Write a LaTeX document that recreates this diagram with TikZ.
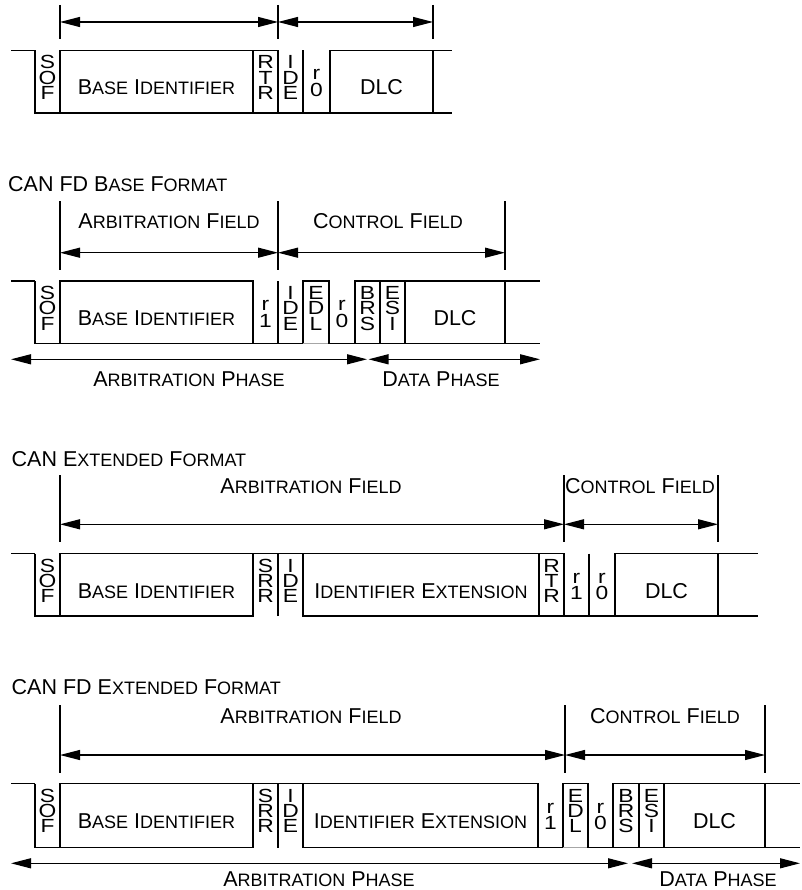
\documentclass[tikz,border=0pt]{standalone}
\usepackage{fontspec}
\setmainfont{Liberation Sans}
\newfontfamily\vfont[FakeStretch=1.2]{Liberation Sans}
\usetikzlibrary{arrows.meta}
\newcommand\SC[1]{{\fontsize{18}{18}\selectfont #1}}
\tikzset{
  wave/.style={line width=1.15pt, line join=miter},
  tick/.style={line width=1.15pt},
  dim/.style={line width=1.15pt, {Triangle[length=20pt,width=10pt]}-{Triangle[length=20pt,width=10pt]}},
  lbl/.style={anchor=base, inner sep=0pt, text depth=0pt, font=\fontsize{21.5}{21.5}\selectfont},
  ttl/.style={anchor=base west, inner sep=0pt, text depth=0pt, font=\fontsize{21.5}{21.5}\selectfont},
  vl/.style={anchor=base, inner sep=0pt, text height=13.5pt, text depth=0pt, font=\vfont\fontsize{19}{19}\selectfont},
}
\newcommand\fldbox[2]{\draw[wave] (#1,\yT) rectangle (#2,\yB);}
\newcommand\flddom[2]{\draw[wave] (#1,\yT) -- (#1,\yB) -- (#2,\yB) -- (#2,\yT);}
\newcommand\fldrec[2]{\draw[wave] (#1,\yB) -- (#1,\yT) -- (#2,\yT) -- (#2,\yB);}
\newcommand\fldedl[2]{\fldrec{#1}{#2}\draw[wave,black!35] (#1,\yB) -- (#2,\yB);}
\newcommand\fldtail[2]{\draw[wave] (#1,\yT) -- (#2,\yT); \draw[wave] (#1,\yB) -- (#2,\yB);}
\newcommand\idle{\draw[wave] (11,\yT) -- (35,\yT);}
\newcommand\vthree[5]{%
  \node[vl] (#1a) at ({#2},{\yT+18.5}) {#3};
  \node[vl] (#1b) at ({#2},{\yT+33.9}) {#4};
  \node[vl] (#1c) at ({#2},{\yT+49.3}) {#5};}
\newcommand\vtwo[4]{%
  \node[vl] (#1a) at ({#2},{\yT+29.5}) {#3};
  \node[vl] (#1b) at ({#2},{\yT+46}) {#4};}
\newcommand\flabel[3]{\node[lbl] (#1) at ({#2},{\yT+44.5}) {#3};}

\begin{document}
\begin{tikzpicture}[x=1pt,y=-1pt]
\useasboundingbox (0,0) rectangle (801,890);
\fill[white] (0,0) rectangle (801,890);

% ---------------- Row 1 ----------------
\draw[tick] (60,5) -- (60,39);
\draw[tick] (278,5) -- (278,39);
\draw[tick] (433,5) -- (433,39);
\coordinate (a1) at (60,22);
\coordinate (b1) at (278,22);
\coordinate (c1) at (433,22);
\draw[dim] (a1) -- (b1);
\draw[dim] (b1) -- (c1);

\def\yT{50.5}\def\yB{113}
\idle
\flddom{35}{60}
\fldbox{60}{253}
\fldbox{253}{278}
\flddom{278}{303}
\flddom{303}{330}
\fldbox{330}{433}
\fldtail{433}{452}
\vthree{sofA}{47.5}{S}{O}{F}
\flabel{bidA}{156.5}{B\SC{ASE} I\SC{DENTIFIER}}
\vthree{rtrA}{265.5}{R}{T}{R}
\vthree{ideA}{290.5}{I}{D}{E}
\vtwo{rzA}{316.5}{r}{0}
\flabel{dlcA}{381.5}{DLC}

% ---------------- Row 2 ----------------
\node[ttl] (t2) at (8,192) {CAN FD B\SC{ASE} F\SC{ORMAT}};
\node[lbl] (af2) at (169,228.5) {A\SC{RBITRATION} F\SC{IELD}};
\node[lbl] (cf2) at (388,228.5) {C\SC{ONTROL} F\SC{IELD}};
\draw[tick] (60,201.5) -- (60,270);
\draw[tick] (278,201.5) -- (278,270);
\draw[tick] (505,201.5) -- (505,270);
\coordinate (a2) at (60,252.7);
\coordinate (b2) at (278,252.7);
\coordinate (c2) at (505,252.7);
\draw[dim] (a2) -- (b2);
\draw[dim] (b2) -- (c2);

\def\yT{281}\def\yB{343.5}
\idle
\flddom{35}{60}
\fldbox{60}{253}
\flddom{253}{278}
\flddom{278}{303}
\fldedl{303}{329}
\flddom{329}{355}
\fldbox{355}{380}
\fldbox{380}{405}
\fldbox{405}{505}
\fldtail{505}{540}
\vthree{sofB}{47.5}{S}{O}{F}
\flabel{bidB}{156.5}{B\SC{ASE} I\SC{DENTIFIER}}
\vtwo{roB}{265.5}{r}{1}
\vthree{ideB}{290.5}{I}{D}{E}
\vthree{edlB}{316}{E}{D}{L}
\vtwo{rzB}{342}{r}{0}
\vthree{brsB}{367.5}{B}{R}{S}
\vthree{esiB}{392.5}{E}{S}{I}
\flabel{dlcB}{455}{DLC}

\coordinate (p2a) at (11,359.3);
\coordinate (p2b) at (367,359.3);
\coordinate (p2c) at (368.5,359.3);
\coordinate (p2d) at (540,359.3);
\draw[dim] (p2a) -- (p2b);
\draw[dim] (p2c) -- (p2d);
\node[lbl] (ap2) at (189,386.7) {A\SC{RBITRATION} P\SC{HASE}};
\node[lbl] (dp2) at (441,386.7) {D\SC{ATA} P\SC{HASE}};

% ---------------- Row 3 ----------------
\node[ttl] (t3) at (11.5,466) {CAN E\SC{XTENDED} F\SC{ORMAT}};
\node[lbl] (af3) at (311,493) {A\SC{RBITRATION} F\SC{IELD}};
\node[lbl] (cf3) at (640,493) {C\SC{ONTROL} F\SC{IELD}};
\draw[tick] (60,475) -- (60,541.7);
\draw[tick] (564,475) -- (564,541.7);
\draw[tick] (718,475) -- (718,541.7);
\coordinate (a3) at (60,524.3);
\coordinate (b3) at (564,524.3);
\coordinate (c3) at (718,524.3);
\draw[dim] (a3) -- (b3);
\draw[dim] (b3) -- (c3);
\draw[line width=1.6pt] (110,524.3) -- (137,524.3);

\def\yT{553.5}\def\yB{616}
\idle
\flddom{35}{60}
\fldbox{60}{253}
\fldrec{253}{278}
\fldrec{278}{303}
\fldbox{303}{539}
\fldbox{539}{564}
\flddom{564}{589}
\flddom{589}{615}
\fldbox{615}{718}
\fldtail{718}{758}
\vthree{sofC}{47.5}{S}{O}{F}
\flabel{bidC}{156.5}{B\SC{ASE} I\SC{DENTIFIER}}
\vthree{srrC}{265.5}{S}{R}{R}
\vthree{ideC}{290.5}{I}{D}{E}
\flabel{extC}{421}{I\SC{DENTIFIER} E\SC{XTENSION}}
\vthree{rtrC}{551.5}{R}{T}{R}
\vtwo{roC}{576.5}{r}{1}
\vtwo{rzC}{602}{r}{0}
\flabel{dlcC}{666.5}{DLC}

% ---------------- Row 4 ----------------
\node[ttl] (t4) at (11.5,694) {CAN FD E\SC{XTENDED} F\SC{ORMAT}};
\node[lbl] (af4) at (311,723.3) {A\SC{RBITRATION} F\SC{IELD}};
\node[lbl] (cf4) at (665,723.3) {C\SC{ONTROL} F\SC{IELD}};
\draw[tick] (60,705) -- (60,772.7);
\draw[tick] (565,705) -- (565,772.7);
\draw[tick] (765,705) -- (765,772.7);
\coordinate (a4) at (60,755);
\coordinate (b4) at (565,755);
\coordinate (c4) at (765,755);
\draw[dim] (a4) -- (b4);
\draw[dim] (b4) -- (c4);
\draw[line width=1.6pt] (110,755) -- (137,755);

\def\yT{783.5}\def\yB{847.5}
\idle
\flddom{35}{60}
\fldbox{60}{253}
\fldrec{253}{278}
\fldrec{278}{303}
\fldbox{303}{538}
\flddom{538}{563}
\fldedl{563}{588}
\flddom{588}{613}
\fldbox{613}{639}
\fldbox{639}{664}
\fldbox{664}{765}
\fldtail{765}{800}
\vthree{sofD}{47.5}{S}{O}{F}
\flabel{bidD}{156.5}{B\SC{ASE} I\SC{DENTIFIER}}
\vthree{srrD}{265.5}{S}{R}{R}
\vthree{ideD}{290.5}{I}{D}{E}
\flabel{extD}{420.5}{I\SC{DENTIFIER} E\SC{XTENSION}}
\vtwo{roD}{550.5}{r}{1}
\vthree{edlD}{575.5}{E}{D}{L}
\vtwo{rzD}{600.5}{r}{0}
\vthree{brsD}{626}{B}{R}{S}
\vthree{esiD}{651.5}{E}{S}{I}
\flabel{dlcD}{714.5}{DLC}

\coordinate (p4a) at (11,863.3);
\coordinate (p4b) at (628,863.3);
\coordinate (p4c) at (632,863.3);
\coordinate (p4d) at (800,863.3);
\draw[dim] (p4a) -- (p4b);
\draw[dim] (p4c) -- (p4d);
\node[lbl] (ap4) at (319,886.5) {A\SC{RBITRATION} P\SC{HASE}};
\node[lbl] (dp4) at (718,886.5) {D\SC{ATA} P\SC{HASE}};
\end{tikzpicture}
\end{document}
